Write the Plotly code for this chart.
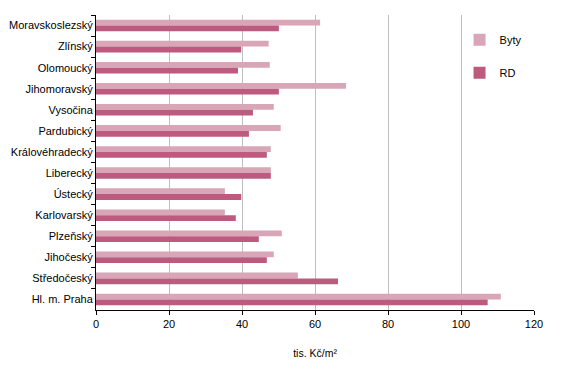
import plotly.graph_objects as go

regions = ["Moravskoslezský", "Zlínský", "Olomoucký", "Jihomoravský", "Vysočina",
           "Pardubický", "Královéhradecký", "Liberecký", "Ústecký", "Karlovarský",
           "Plzeňský", "Jihočeský", "Středočeský", "Hl. m. Praha"]
byty = [61.4, 47.3, 47.6, 68.5, 48.7, 50.6, 47.9, 47.9, 35.3, 35.3, 50.9, 48.7, 55.3, 110.9]
rd = [50.1, 39.8, 38.9, 50.1, 43.0, 41.9, 46.8, 47.9, 39.8, 38.3, 44.6, 46.8, 66.3, 107.3]
x_ticks = [0, 20, 40, 60, 80, 100, 120]

FONT = "Liberation Sans, Arial, sans-serif"

fig = go.Figure()
fig.add_trace(go.Bar(y=regions, x=byty, orientation="h", name="Byty",
                     marker=dict(color="#D8A6B6", line=dict(width=0)), legendgroup="a"))
fig.add_trace(go.Bar(y=regions, x=rd, orientation="h", name="RD",
                     marker=dict(color="#BD5B7F", line=dict(width=0)), legendgroup="b"))

fig.update_layout(
    width=572, height=379,
    margin=dict(l=88, r=46, t=7, b=77, autoexpand=False),
    paper_bgcolor="white", plot_bgcolor="white",
    barmode="group", bargap=0.45, bargroupgap=0,
    font=dict(family=FONT, size=11, color="#000000"),
    legend=dict(x=0.83, y=0.965, xanchor="left", yanchor="top",
                traceorder="grouped", tracegroupgap=14,
                font=dict(size=11), bgcolor="rgba(0,0,0,0)"),
    xaxis=dict(range=[0, 120], tickvals=x_ticks, showgrid=True, gridcolor="#BFBFBF", gridwidth=1,
               zeroline=False, showline=True, linecolor="#000000", linewidth=1,
               ticks="outside", ticklen=4, tickcolor="#000000", automargin=False,
               title=dict(text="tis. Kč/m²", font=dict(size=10.5), standoff=20)),
    yaxis=dict(autorange="reversed", showline=True, linecolor="#000000", linewidth=1,
               ticks="outside", ticklen=4, tickcolor="#000000", tickson="boundaries",
               showgrid=False, automargin=False),
)

fig.write_html("out.html")
